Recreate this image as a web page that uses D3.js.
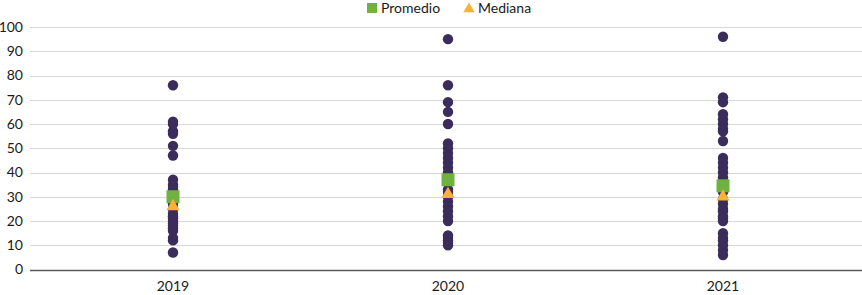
<!DOCTYPE html>
<html>
<head>
<meta charset="utf-8">
<script src="https://cdn.jsdelivr.net/npm/d3@7"></script>
<style>
  body { margin: 0; background: #fff; }
  text { font-family: Lato, "Open Sans", sans-serif; fill: #1a1a1a; }
</style>
</head>
<body>
<div id="chart"></div>
<script>
// Datos
const years = ['2019', '2020', '2021'];
const values2019 = [76, 61, 60, 57, 56, 51, 47, 37, 35, 34, 33, 31, 29, 27, 25, 23, 22, 21, 20, 19, 18, 17, 16, 13, 12, 7];
const values2020 = [95, 76, 69, 65, 60, 52, 50, 48, 46, 44, 42, 40, 38, 36, 33, 32, 30, 28, 26, 24, 22, 20, 14, 13, 12, 11, 10];
const values2021 = [96, 71, 69, 64, 62, 60, 58, 57, 53, 46, 44, 42, 40, 38, 36, 34, 33, 32, 29, 27, 25, 24, 22, 21, 20, 15, 13, 12, 10, 8, 6];
const promedio = [30, 37, 34.5];
const mediana = [26, 31, 30];
const yTicks = [0, 10, 20, 30, 40, 50, 60, 70, 80, 90, 100];

const width = 862, height = 295;
const svg = d3.select('#chart').append('svg')
    .attr('width', width)
    .attr('height', height);

const x = d3.scaleBand().domain(years).range([35.5, 860.5]);
const y = d3.scaleLinear().domain([0, 100]).range([269.5, 27]);

// Rejilla
svg.selectAll('.grid')
    .data(yTicks)
    .enter().append('line')
    .attr('x1', 30).attr('x2', width)
    .attr('y1', d => Math.round(y(d)) + 0.5)
    .attr('y2', d => Math.round(y(d)) + 0.5)
    .style('stroke', d => d === 0 ? '#595959' : '#d9d9d9')
    .style('stroke-width', d => d === 0 ? 1.5 : 1);

svg.selectAll('.ytick')
    .data(yTicks)
    .enter().append('text')
    .attr('x', 23)
    .attr('y', d => y(d))
    .attr('dy', '0.35em')
    .attr('text-anchor', 'end')
    .style('font-size', '14px')
    .text(d => d);

svg.selectAll('.xtick')
    .data(years)
    .enter().append('text')
    .attr('x', d => x(d) + x.bandwidth() / 2)
    .attr('y', 286)
    .attr('dy', '0.35em')
    .attr('text-anchor', 'middle')
    .style('font-size', '14px')
    .text(d => d);

// Puntos
const series = [values2019, values2020, values2021];
series.forEach((vals, i) => {
    const cx = x(years[i]) + x.bandwidth() / 2;
    svg.append('g').selectAll('circle')
        .data(vals)
        .enter().append('circle')
        .attr('cx', cx)
        .attr('cy', d => y(d))
        .attr('r', 5.2)
        .style('fill', '#3b2d5b');
});

// Promedio
svg.selectAll('.prom')
    .data(promedio)
    .enter().append('rect')
    .attr('x', (d, i) => x(years[i]) + x.bandwidth() / 2 - 6.5)
    .attr('y', d => y(d) - 6.5)
    .attr('width', 13).attr('height', 13)
    .style('fill', '#70b23f');

// Mediana
const tri = d3.symbol().type(d3.symbolTriangle).size(75);
svg.selectAll('.med')
    .data(mediana)
    .enter().append('path')
    .attr('d', tri)
    .attr('transform', (d, i) => `translate(${x(years[i]) + x.bandwidth() / 2},${y(d)})`)
    .style('fill', '#f9b233');

// Leyenda
const legend = svg.append('g');
legend.append('rect')
    .attr('x', 367).attr('y', 3).attr('width', 10).attr('height', 10)
    .style('fill', '#70b23f');
legend.append('text')
    .attr('x', 381).attr('y', 13)
    .style('font-size', '14px').text('Promedio');
legend.append('path')
    .attr('d', d3.symbol().type(d3.symbolTriangle).size(55))
    .attr('transform', 'translate(469,9)')
    .style('fill', '#f9b233');
legend.append('text')
    .attr('x', 478).attr('y', 13)
    .style('font-size', '14px').text('Mediana');
</script>
</body>
</html>
